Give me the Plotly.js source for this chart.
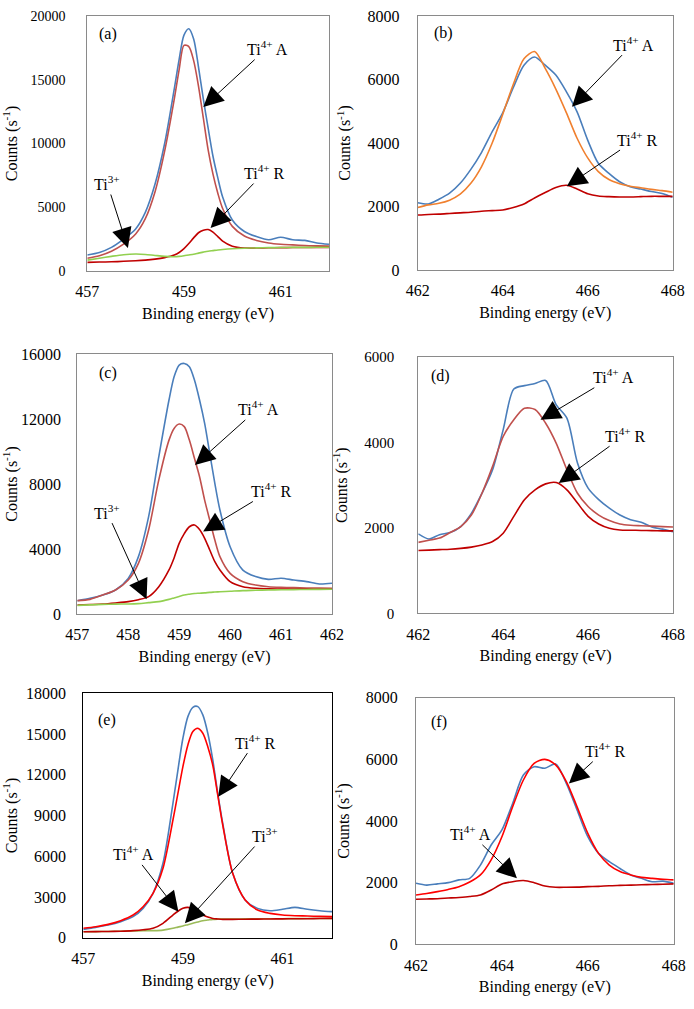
<!DOCTYPE html>
<html>
<head>
<meta charset="utf-8">
<script src="https://cdn.plot.ly/plotly-3.0.1.min.js"></script>
<style>html,body{margin:0;padding:0;background:#fff;}#chart{width:694px;height:1009px;}</style>
</head>
<body>
<div id="chart"></div>
<script>
// ---- Data (binding energy grids, eV) ----
const xA = [457, 457.25, 457.5, 457.75, 458, 458.2, 458.4, 458.6, 458.8, 458.9, 459, 459.1, 459.2, 459.3, 459.4, 459.5, 459.6, 459.7, 459.8, 460, 460.25, 460.5, 460.75, 461, 461.25, 461.5, 461.75, 462];
const xB = [462, 462.25, 462.5, 462.75, 463, 463.25, 463.5, 463.75, 464, 464.25, 464.5, 464.75, 465, 465.25, 465.5, 465.75, 466, 466.25, 466.5, 466.75, 467, 467.25, 467.5, 467.75, 468];

// (a)
const aBlue  = [1250, 1450, 1850, 2500, 3300, 4600, 6800, 10000, 14300, 16600, 18500, 19000, 18200, 16000, 13500, 11200, 9000, 7300, 5800, 4000, 3100, 2700, 2450, 2650, 2450, 2400, 2200, 2100];
const aRedA  = [1000, 1200, 1550, 2100, 2900, 4100, 6200, 9400, 13500, 15800, 17700, 17600, 16500, 14500, 12000, 9500, 7600, 6100, 4900, 3500, 2750, 2400, 2200, 2100, 2050, 2000, 1970, 1950];
const aRedR  = [680, 700, 720, 760, 800, 850, 930, 1050, 1250, 1450, 1750, 2150, 2600, 3000, 3200, 3250, 3050, 2700, 2350, 1950, 1800, 1800, 1820, 1830, 1840, 1840, 1850, 1850];
const aGreen = [850, 1000, 1150, 1280, 1330, 1300, 1220, 1150, 1120, 1150, 1200, 1260, 1320, 1400, 1480, 1550, 1600, 1650, 1690, 1750, 1790, 1810, 1830, 1840, 1850, 1850, 1860, 1860];
// (b)
const bBlue   = [2120, 2080, 2230, 2420, 2730, 3170, 3700, 4350, 4950, 5750, 6450, 6710, 6450, 6140, 5610, 4980, 4090, 3360, 3040, 2780, 2620, 2550, 2470, 2410, 2290];
const bOrange = [1970, 2050, 2100, 2200, 2390, 2730, 3250, 3990, 4900, 5850, 6650, 6880, 6350, 5700, 4950, 4150, 3530, 3100, 2850, 2720, 2640, 2590, 2540, 2500, 2450];
const bRed    = [1730, 1750, 1760, 1780, 1800, 1820, 1850, 1870, 1890, 1970, 2080, 2270, 2440, 2600, 2670, 2550, 2400, 2330, 2310, 2300, 2300, 2310, 2320, 2320, 2320];
// (c)
const cBlue  = [820, 960, 1170, 1480, 2190, 3530, 5990, 9680, 13170, 14600, 15320, 15420, 15220, 14400, 13170, 11730, 9890, 8040, 6400, 4140, 2700, 2300, 2130, 2200, 2090, 1990, 1850, 1890];
const cRedA  = [820, 900, 1170, 1480, 2090, 3120, 5170, 8250, 10700, 11420, 11690, 11530, 10700, 9580, 8450, 7010, 5780, 4550, 3530, 2500, 1990, 1780, 1680, 1640, 1620, 1600, 1590, 1580];
const cRedR  = [550, 580, 615, 680, 760, 880, 1070, 1680, 2710, 3450, 4350, 4950, 5370, 5480, 5200, 4660, 3940, 3220, 2710, 1990, 1680, 1580, 1550, 1540, 1530, 1530, 1520, 1520];
const cGreen = [530, 560, 590, 610, 615, 640, 700, 760, 900, 990, 1080, 1170, 1220, 1260, 1280, 1300, 1330, 1350, 1370, 1400, 1440, 1460, 1480, 1490, 1500, 1510, 1515, 1520];
// (d)
const dBlue = [1860, 1740, 1840, 1890, 2030, 2340, 2810, 3360, 4300, 5250, 5330, 5380, 5450, 4880, 4570, 3520, 2930, 2660, 2460, 2300, 2190, 2130, 2020, 1970, 1910];
const dRedA = [1660, 1710, 1760, 1890, 2030, 2300, 2810, 3440, 4140, 4530, 4800, 4770, 4450, 3980, 3360, 2810, 2500, 2300, 2170, 2090, 2060, 2050, 2040, 2030, 2020];
const dRedR = [1470, 1480, 1490, 1500, 1520, 1550, 1600, 1680, 1875, 2270, 2660, 2890, 3030, 3060, 2890, 2580, 2270, 2090, 1990, 1950, 1945, 1940, 1935, 1930, 1930];
// (e)
const eBlue  = [610, 760, 930, 1180, 1550, 2160, 3270, 5480, 9900, 12350, 14690, 16280, 16970, 17020, 16410, 15060, 13090, 10630, 8420, 4740, 2780, 2160, 1990, 2090, 2230, 2090, 1990, 1920];
const eRedR  = [690, 810, 980, 1250, 1670, 2280, 3270, 5110, 8670, 10630, 12600, 14200, 15180, 15420, 15060, 14070, 12700, 10500, 8300, 4740, 2780, 2040, 1790, 1670, 1620, 1600, 1570, 1550];
const eRedA  = [440, 450, 460, 480, 520, 580, 690, 1060, 1670, 1950, 2160, 2230, 2090, 1850, 1670, 1520, 1420, 1380, 1350, 1350, 1360, 1370, 1380, 1390, 1400, 1400, 1410, 1420];
const eGreen = [440, 450, 460, 480, 500, 510, 520, 560, 690, 780, 860, 960, 1060, 1160, 1250, 1300, 1350, 1370, 1380, 1380, 1385, 1390, 1395, 1400, 1405, 1410, 1415, 1420];
// (f)
const fBlue = [1980, 1920, 1960, 2000, 2090, 2140, 2570, 3220, 3710, 4570, 5490, 5760, 5710, 5850, 5220, 4360, 3490, 2950, 2680, 2460, 2250, 2140, 2030, 2050, 1980];
const fRedR = [1600, 1650, 1710, 1780, 1870, 2020, 2250, 2740, 3490, 4460, 5330, 5870, 6000, 5820, 5280, 4460, 3600, 2950, 2570, 2360, 2250, 2170, 2140, 2110, 2090];
const fRedA = [1460, 1470, 1480, 1500, 1520, 1550, 1600, 1760, 1960, 2030, 2070, 2000, 1890, 1850, 1850, 1855, 1870, 1880, 1900, 1910, 1920, 1930, 1940, 1950, 1960];

// ---- Styling ----
const FONT = 'Liberation Serif';
const BLUE = '#4a7ebb', REDA = '#c0504d', DRED = '#c00000', BRED = '#ff0000', GREEN = '#92d050', OLIVE = '#9bbb59', ORANGE = '#f0802f';

function tr(x, y, color, n, w) {
  return {x: x, y: y, type: 'scatter', mode: 'lines', xaxis: 'x' + n, yaxis: 'y' + n,
    line: {color: color, width: w || 1.6, shape: 'spline', smoothing: 0.8}, hoverinfo: 'skip', showlegend: false};
}
const data = [
  tr(xA, aBlue, BLUE, ''), tr(xA, aRedA, REDA, ''), tr(xA, aRedR, DRED, ''), tr(xA, aGreen, GREEN, ''),
  tr(xB, bBlue, BLUE, 2), tr(xB, bOrange, ORANGE, 2), tr(xB, bRed, DRED, 2),
  tr(xA, cBlue, BLUE, 3), tr(xA, cRedA, REDA, 3), tr(xA, cRedR, DRED, 3), tr(xA, cGreen, GREEN, 3),
  tr(xB, dBlue, BLUE, 4), tr(xB, dRedA, REDA, 4), tr(xB, dRedR, DRED, 4),
  tr(xA, eBlue, BLUE, 5), tr(xA, eGreen, OLIVE, 5), tr(xA, eRedA, DRED, 5), tr(xA, eRedR, BRED, 5),
  tr(xB, fBlue, BLUE, 6), tr(xB, fRedA, DRED, 6), tr(xB, fRedR, BRED, 6)
];

const W = 694, H = 1009;
function xax(l, r, range, dtick, anchor, frame, standoff) {
  return {domain: [l / W, r / W], range: range, dtick: dtick, tick0: range[0], anchor: anchor,
    showline: true, mirror: true, linecolor: frame, linewidth: 1, showgrid: false, zeroline: false, ticks: '',
    ticklabelstandoff: 6, fixedrange: true, tickformat: 'd',
    tickfont: {family: FONT, size: 16, color: '#000'},
    title: {text: 'Binding energy (eV)', font: {family: FONT, size: 16, color: '#000'}, standoff: standoff}};
}
function yax(t, b, range, dtick, anchor, frame, tsize, lstand, standoff) {
  return {domain: [1 - b / H, 1 - t / H], range: range, dtick: dtick, tick0: 0, anchor: anchor,
    showline: true, mirror: true, linecolor: frame, linewidth: 1, showgrid: false, zeroline: false, ticks: '',
    ticklabelstandoff: lstand, fixedrange: true, tickformat: 'd', exponentformat: 'none',
    tickfont: {family: FONT, size: tsize, color: '#000'},
    title: {text: 'Counts (s<sup>-1</sup>)', font: {family: FONT, size: 16, color: '#000'}, standoff: standoff}};
}
const GRAY = '#8a8a8a';

function lab(txt, x, y, n) {
  return {text: txt, x: x, y: y, xref: 'x' + n, yref: 'y' + n, showarrow: false,
    font: {family: FONT, size: 16, color: '#000'}};
}
function arr(txt, tx, ty, x, y, n) {
  return {text: txt, x: x, y: y, ax: tx, ay: ty, xref: 'x' + n, yref: 'y' + n, axref: 'x' + n, ayref: 'y' + n,
    showarrow: true, arrowhead: 2, arrowsize: 4, arrowwidth: 1, arrowcolor: '#000', standoff: 0,
    font: {family: FONT, size: 16, color: '#000'}};
}
const T4A = 'Ti<sup>4+</sup> A', T4R = 'Ti<sup>4+</sup> R', T3 = 'Ti<sup>3+</sup>';

const layout = {
  width: W, height: H, margin: {l: 0, r: 0, t: 0, b: 0}, paper_bgcolor: '#fff', plot_bgcolor: '#fff',
  showlegend: false,
  font: {family: FONT, size: 16, color: '#000'},
  xaxis:  xax(87.3, 329, [457, 462], 2, 'y', GRAY, 8),
  yaxis:  yax(16, 271, [0, 20000], 5000, 'x', GRAY, 14, 18, 14),
  xaxis2: xax(417.7, 672.7, [462, 468], 2, 'y2', GRAY, 8),
  yaxis2: yax(16, 270, [0, 8000], 2000, 'x2', GRAY, 16, 14, 12),
  xaxis3: xax(77.3, 332, [457, 462], 1, 'y3', GRAY, 8),
  yaxis3: yax(354, 614, [0, 16000], 4000, 'x3', GRAY, 16, 12, 12),
  xaxis4: xax(418.3, 673, [462, 468], 2, 'y4', GRAY, 8),
  yaxis4: yax(357, 613.3, [0, 6000], 2000, 'x4', GRAY, 15, 20, 12),
  xaxis5: xax(83.3, 332.3, [457, 462], 2, 'y5', '#000', 8),
  yaxis5: yax(693.3, 937.7, [0, 18000], 3000, 'x5', '#000', 16, 13, 12),
  xaxis6: xax(416, 673.7, [462, 468], 2, 'y6', GRAY, 8),
  yaxis6: yax(697.7, 944.3, [0, 8000], 2000, 'x6', GRAY, 16, 14, 12),
  annotations: [
    lab('(a)', 457.43, 18580, ''),
    arr(T4A, 460.72, 17480, 459.40, 12860, ''),
    arr(T4R, 460.67, 7760, 459.55, 3370, ''),
    arr(T3, 457.41, 6900, 457.84, 1800, ''),
    lab('(b)', 462.61, 7450, 2),
    arr(T4A, 467.07, 7130, 465.63, 5140, 2),
    arr(T4R, 467.16, 4140, 465.51, 2640, 2),
    lab('(c)', 457.61, 14810, 3),
    arr(T4A, 460.55, 12650, 459.31, 9170, 3),
    arr(T4R, 460.82, 7630, 459.47, 5070, 3),
    arr(T3, 457.58, 6300, 458.36, 900, 3),
    lab('(d)', 462.52, 5550, 4),
    arr(T4A, 466.6, 5550, 464.88, 4530, 4),
    arr(T4R, 466.88, 4180, 465.31, 3050, 4),
    lab('(e)', 457.47, 16040, 5),
    arr(T4R, 460.45, 14440, 459.71, 10390, 5),
    arr(T4A, 458.0, 6210, 458.91, 1920, 5),
    arr(T3, 460.65, 7560, 459.04, 1060, 5),
    lab('(f)', 462.53, 7220, 6),
    arr(T4R, 466.41, 6300, 465.56, 5220, 6),
    arr(T4A, 463.27, 3600, 464.35, 2140, 6)
  ]
};
Plotly.newPlot('chart', data, layout, {displayModeBar: false, staticPlot: true});
</script>
</body>
</html>
